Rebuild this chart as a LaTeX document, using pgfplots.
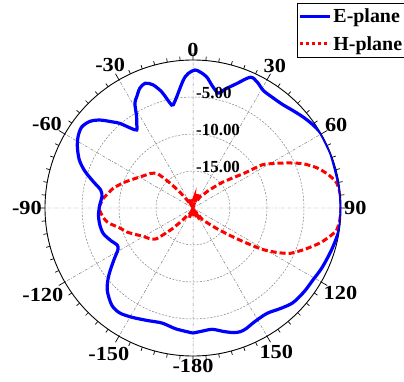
\documentclass[border=0pt]{standalone}
\usepackage{fontspec}
\setmainfont{Liberation Serif}
\newfontfamily\tickfont[FakeStretch=1.12]{Liberation Serif}
\usepackage{pgfplots}
\usepackage{pgfplotstable}
\usepgfplotslibrary{polar}
\pgfplotsset{compat=1.18}

\pgfplotstableread{
t r
-180 -3.1
-172 -3.5
-165 -3.9
-158 -3.6
-151 -3.1
-145 -2.7
-140 -2.9
-134 -3.9
-130 -5.0
-127 -6.0
-123 -7.3
-119 -8.4
-116 -8.6
-112 -8.1
-106 -7.4
-100 -7.2
-94 -7.2
-88 -7.4
-83 -7.6
-79 -7.3
-75 -6.0
-71 -4.5
-67 -3.3
-62 -2.3
-58 -1.7
-54 -1.4
-50 -1.8
-46.6 -2.7
-43 -4.1
-40.8 -4.9
-38 -6.3
-35.8 -7.0
-33.5 -6.2
-31.7 -5.5
-29 -3.8
-26.8 -3.15
-24 -2.3
-21 -1.95
-18 -2.5
-15 -3.8
-11.7 -5.8
-10 -5.5
-8.3 -4.8
-4.3 -2.65
-2 -1.8
0.8 -1.35
3 -1.6
6 -2.2
9 -3.3
12.4 -4.1
15 -3.4
19.3 -2.2
23.7 -0.7
27 -0.9
31 -1.5
36 -1.6
41 -1.5
45 -1.2
50.4 -0.7
55 -0.3
59.4 0
65 0
70 0
82 0
90 0
97 0
102 -0.2
108 -0.5
115 -0.8
121 -1.1
127 -1.2
133.5 -1.4
139 -2.0
145 -2.6
152 -2.5
156 -2.2
159 -2.1
162 -2.3
166 -2.8
171 -3.4
176 -3.3
180 -3.1
}\Eplane

\pgfplotstableread{
t r
-180 -19.8
-172 -19.0
-165 -19.9
-160 -18.6
-155 -19.5
-150 -18.9
-144 -18.8
-139 -17.8
-135 -16
-130 -13.5
-125 -12.8
-120 -12.3
-115 -11.5
-110 -10.5
-105 -9.7
-100 -8.4
-96 -7.8
-90 -7.3
-84 -7.8
-80 -8.4
-76 -8.9
-70 -10
-65 -10.9
-58 -11.9
-51 -12.6
-46 -13.3
-43 -15.2
-40 -17
-37 -18.5
-33 -19.5
-27 -18.6
-21 -19.7
-15 -18.8
-8 -19.9
0 -19.3
6 -18.7
12 -19.8
16 -18.0
20 -19.2
24 -17.8
28 -19.0
32 -18.2
36 -18.0
41 -17
48 -15
53 -13.2
56 -11.5
58 -9
61 -7.6
64.4 -5.9
68 -4
72 -2.4
76 -1.2
80 -0.3
85 0
90 0
95 -0.1
99 -0.4
102 -1.2
105.4 -2.2
110 -3.8
115 -5.5
118 -7.2
121 -9.2
124 -12
127 -14
131 -15.8
136 -17.2
141 -18.0
145 -19.3
150 -18.2
155 -19.4
160 -18.6
167 -19.6
174 -18.9
180 -19.8
}\Hplane

\begin{document}
\begin{tikzpicture}
\useasboundingbox (0bp,0bp) rectangle (404bp,382bp);
\begin{polaraxis}[
  at={(193bp,174bp)}, anchor=origin,
  width=296bp, height=296bp, scale only axis,
  ymin=0, ymax=20,
  ytick={5,10,15}, yticklabels={},
  ytick style={draw=none},
  y axis line style={draw=none},
  xtick={0,30,...,330},
  xticklabels={90,60,30,0,-30,-60,-90,-120,-150,-180,150,120},
  minor x tick num=5,
  xtick align=inside,
  major tick length=7bp, minor tick length=4bp,
  tick style={black, line width=0.7pt},
  grid=major,
  major x grid style={gray, line width=0.5pt, dash pattern=on 3pt off 1.5pt on 0.8pt off 1.5pt},
  major y grid style={gray, line width=0.5pt, dash pattern=on 2pt off 1.5pt},
  axis line style={black, line width=0.9pt},
  xticklabel style={font=\tickfont\fontsize{20}{22}\selectfont\bfseries, inner sep=3bp},
  legend style={at={(0.851,1.007)}, anchor=south west, draw=black, line width=0.8pt,
    font=\fontsize{20}{22}\selectfont\bfseries, inner xsep=1bp, inner ysep=4bp,
    row sep=8bp, cells={anchor=west}},
  legend image code/.code={\draw[#1] (0bp,0bp) -- (30bp,0bp);},
  reverse legend,
]
\addplot[red, line width=3bp, dash pattern=on 6bp off 3bp, smooth, tension=0.35,
  legend image post style={dash pattern=on 3.5bp off 2.5bp}]
  table[x expr=90-\thisrow{t}, y expr=\thisrow{r}+20] {\Hplane};
\addlegendentry{H-plane}
\addplot[blue, line width=3.2bp, smooth, tension=0.5]
  table[x expr=90-\thisrow{t}, y expr=\thisrow{r}+20] {\Eplane};
\addlegendentry{E-plane}
\node[anchor=west, inner sep=0pt, xshift=3bp, yshift=4bp, font=\fontsize{17}{18}\selectfont\bfseries] at (axis cs:90,15) {-5.00};
\node[anchor=west, inner sep=0pt, xshift=3bp, yshift=4bp, font=\fontsize{17}{18}\selectfont\bfseries] at (axis cs:90,10) {-10.00};
\node[anchor=west, inner sep=0pt, xshift=3bp, yshift=4bp, font=\fontsize{17}{18}\selectfont\bfseries] at (axis cs:90,5) {-15.00};
\end{polaraxis}
\end{tikzpicture}
\end{document}
